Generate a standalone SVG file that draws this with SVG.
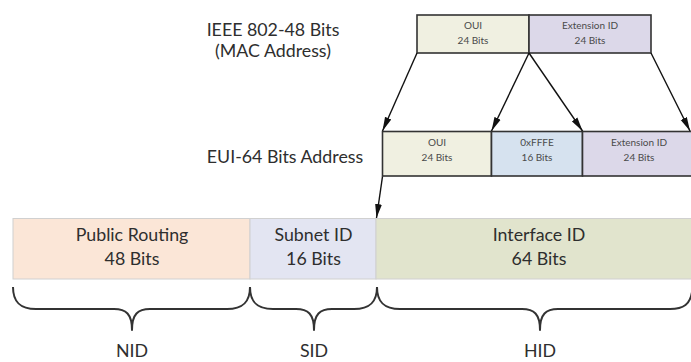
<svg xmlns="http://www.w3.org/2000/svg" width="691" height="362" viewBox="0 0 691 362">
  <defs>
    <style>
      .lbl { font-family: Lato, "Open Sans", "Liberation Sans", sans-serif; fill: #2e2e2e; text-anchor: middle; }
      .big { font-size: 17.8px; }
      .small { font-size: 10px; fill: #4a4a4a; }
      .box { stroke: #333; stroke-width: 1.6; }
      .bar { stroke: #d0d0d0; stroke-width: 1; }
      .arrow { stroke: #111; stroke-width: 1.4; fill: none; marker-end: url(#head); }
      .brace { stroke: #333; stroke-width: 2; fill: none; stroke-linejoin: round; }
    </style>
    <marker id="head" markerUnits="userSpaceOnUse" markerWidth="15" markerHeight="8" refX="14" refY="4" orient="auto">
      <path d="M0,0.6 L14,4 L0,7.4 Z" fill="#111"/>
    </marker>
  </defs>

  <!-- 48-bit MAC address -->
  <g id="mac-label">
    <text class="lbl big" x="273" y="36">IEEE 802-48 Bits</text>
    <text class="lbl big" x="273" y="57">(MAC Address)</text>
  </g>
  <g id="mac-oui">
    <rect class="box" x="417" y="15" width="112" height="38" fill="#f0f0e1"/>
    <text class="lbl small" x="473" y="29">OUI</text>
    <text class="lbl small" x="473" y="44">24 Bits</text>
  </g>
  <g id="mac-ext">
    <rect class="box" x="529" y="15" width="122" height="38" fill="#dcd8e9"/>
    <text class="lbl small" x="590" y="29">Extension ID</text>
    <text class="lbl small" x="590" y="44">24 Bits</text>
  </g>

  <!-- 64-bit EUI address -->
  <g id="eui-label">
    <text class="lbl big" x="285" y="163">EUI-64 Bits Address</text>
  </g>
  <g id="eui-oui">
    <rect class="box" x="382.5" y="131.5" width="109" height="44.5" fill="#f0f0e1"/>
    <text class="lbl small" x="437" y="146">OUI</text>
    <text class="lbl small" x="437" y="161">24 Bits</text>
  </g>
  <g id="eui-fffe">
    <rect class="box" x="491.5" y="131.5" width="91" height="44.5" fill="#d6e2ef"/>
    <text class="lbl small" x="537" y="146">0xFFFE</text>
    <text class="lbl small" x="537" y="161">16 Bits</text>
  </g>
  <g id="eui-ext">
    <rect class="box" x="582.5" y="131.5" width="112" height="44.5" fill="#dcd8e9"/>
    <text class="lbl small" x="639" y="146">Extension ID</text>
    <text class="lbl small" x="639" y="161">24 Bits</text>
  </g>

  <!-- 128-bit IPv6 address -->
  <g id="public-routing">
    <rect class="bar" x="13" y="218.5" width="237" height="60.5" fill="#fbe6d7"/>
    <text class="lbl big" x="132" y="241">Public Routing</text>
    <text class="lbl big" x="132" y="265">48 Bits</text>
  </g>
  <g id="subnet-id">
    <rect class="bar" x="250" y="218.5" width="126" height="60.5" fill="#e3e5f2"/>
    <text class="lbl big" x="313.5" y="241">Subnet ID</text>
    <text class="lbl big" x="313.5" y="265">16 Bits</text>
  </g>
  <g id="interface-id">
    <rect class="bar" x="376" y="218.5" width="326" height="60.5" fill="#e1e4cd"/>
    <text class="lbl big" x="539" y="241">Interface ID</text>
    <text class="lbl big" x="539" y="265">64 Bits</text>
  </g>

  <!-- braces and part names -->
  <g id="nid">
    <path class="brace" d="M13,287 C13,302 20,309 36,309 L114,309 C126,309 132,314 132,330 C132,314 138,309 150,309 L227,309 C243,309 250,302 250,287"/>
    <text class="lbl big" x="132" y="357">NID</text>
  </g>
  <g id="sid">
    <path class="brace" d="M250,287 C250,302 257,309 273,309 L296,309 C308,309 314,314 314,330 C314,314 320,309 332,309 L354,309 C370,309 377,302 377,287"/>
    <text class="lbl big" x="314" y="357">SID</text>
  </g>
  <g id="hid">
    <path class="brace" d="M377,287 C377,302 384,309 400,309 L522,309 C534,309 540,314 540,330 C540,314 546,309 558,309 L670,309 C684,309 690,304 692,292"/>
    <text class="lbl big" x="540" y="357">HID</text>
  </g>

  <!-- connectors -->
  <g id="connectors">
    <line class="arrow" x1="417" y1="53" x2="382.5" y2="131"/>
    <line class="arrow" x1="529" y1="53" x2="491.5" y2="131"/>
    <line class="arrow" x1="529" y1="53" x2="582.5" y2="131"/>
    <line class="arrow" x1="651" y1="53" x2="690" y2="131"/>
    <line class="arrow" x1="382.5" y1="176.5" x2="376.5" y2="218"/>
  </g>
</svg>
